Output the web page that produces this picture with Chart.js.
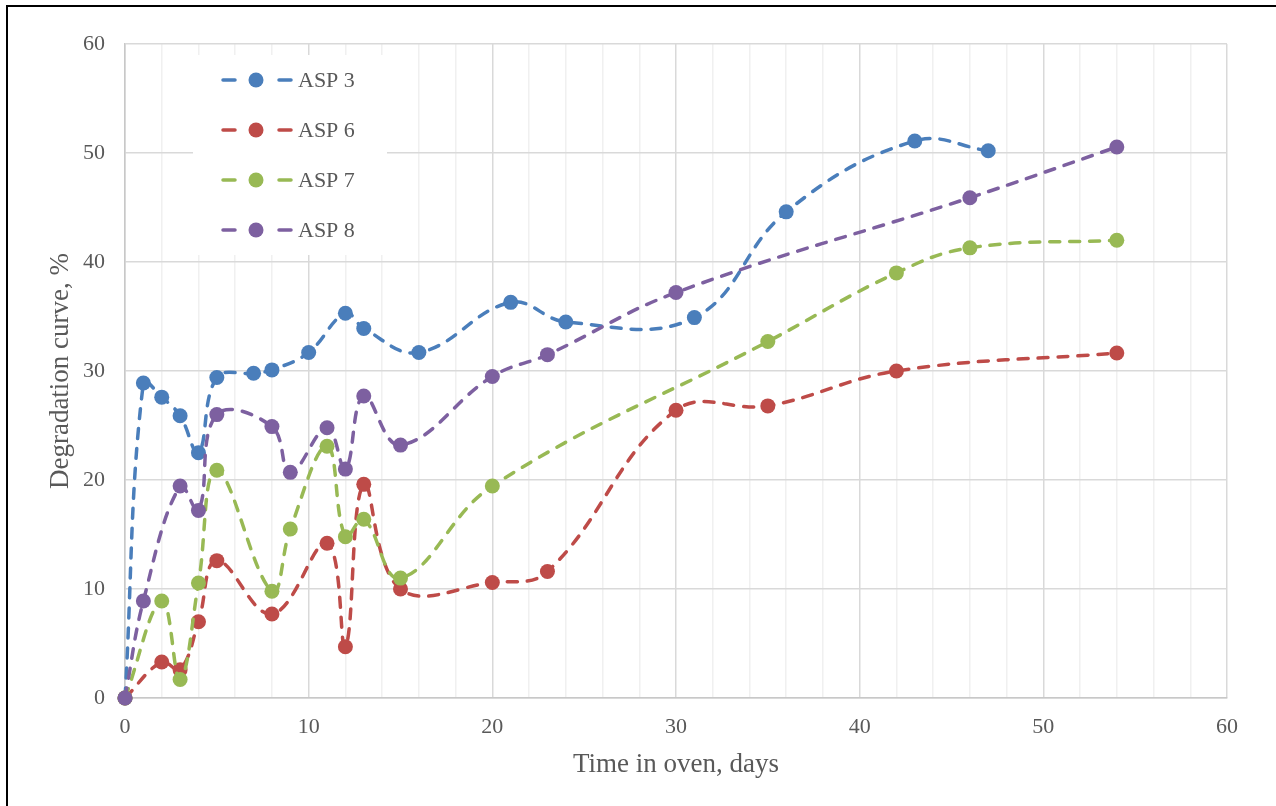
<!DOCTYPE html>
<html>
<head>
<meta charset="utf-8">
<script src="https://cdn.jsdelivr.net/npm/chart.js@4.4.1/dist/chart.umd.min.js"></script>
<style>
  html, body { margin: 0; padding: 0; background: #fff; overflow: hidden; }
  #wrap { position: relative; width: 1276px; height: 806px; }
  #c { position: absolute; left: 0; top: 0; }
  #frame { position: absolute; left: 6px; top: 5px; width: 1400px; height: 900px;
           border-left: 2px solid #000; border-top: 2px solid #000; pointer-events: none; }
</style>
</head>
<body>
<div id="wrap">
  <canvas id="c" width="1276" height="806"></canvas>
  <div id="frame"></div>
</div>
<script>
// ---- data ----
const seriesNames = ['ASP 3', 'ASP 6', 'ASP 7', 'ASP 8'];

const asp3Days   = [0, 1, 2, 3, 4, 5, 7, 8, 10, 12, 13, 16, 21, 24, 31, 36, 43, 47];
const asp3Values = [0, 28.9, 27.6, 25.9, 22.5, 29.4, 29.8, 30.1, 31.7, 35.3, 33.9, 31.7, 36.3, 34.5, 34.9, 44.6, 51.1, 50.2];

const asp6Days   = [0, 2, 3, 4, 5, 8, 11, 12, 13, 15, 20, 23, 30, 35, 42, 54];
const asp6Values = [0, 3.3, 2.6, 7.0, 12.6, 7.7, 14.2, 4.7, 19.6, 10.0, 10.6, 11.6, 26.4, 26.8, 30.0, 31.65];

const asp7Days   = [0, 2, 3, 4, 5, 8, 9, 11, 12, 13, 15, 20, 35, 42, 46, 54];
const asp7Values = [0, 8.9, 1.7, 10.55, 20.9, 9.8, 15.5, 23.1, 14.8, 16.4, 11.0, 19.45, 32.7, 39.0, 41.3, 42.0];

const asp8Days   = [0, 1, 3, 4, 5, 8, 9, 11, 12, 13, 15, 20, 23, 30, 46, 54];
const asp8Values = [0, 8.9, 19.45, 17.2, 26.0, 24.9, 20.7, 24.8, 21.0, 27.7, 23.2, 29.5, 31.5, 37.2, 45.9, 50.55];

const xTickLabels = [0, 10, 20, 30, 40, 50, 60];
const yTickLabels = [0, 10, 20, 30, 40, 50, 60];

const colors = ['#4A7EBB', '#BE4B48', '#98B954', '#7D60A0'];

// ---- build ----
const toPts = (xs, ys) => xs.map((x, i) => ({ x: x, y: ys[i] }));
const allDays = [asp3Days, asp6Days, asp7Days, asp8Days];
const allVals = [asp3Values, asp6Values, asp7Values, asp8Values];

const FONT = "'Liberation Serif', 'Times New Roman', serif";
const TXT = '#595959';

const datasets = seriesNames.map((name, i) => ({
  label: name,
  data: toPts(allDays[i], allVals[i]),
  borderColor: colors[i],
  backgroundColor: colors[i],
  borderWidth: 3.5,
  borderDash: [10, 10],
  borderCapStyle: 'round',
  tension: 0.4,
  pointRadius: 7.5,
  pointBorderWidth: 0,
  pointBackgroundColor: colors[i],
  fill: false,
  clip: false,
  order: seriesNames.length - 1 - i
}));

const legendPlugin = {
  id: 'insideLegend',
  afterDraw(chart) {
    const ctx = chart.ctx;
    const a = chart.chartArea;
    const bx = a.left + 68, by = a.top + 11;
    ctx.save();
    ctx.fillStyle = '#ffffff';
    ctx.fillRect(bx, by, 194, 200);
    ctx.font = "22px " + FONT;
    ctx.textBaseline = 'middle';
    ctx.textAlign = 'left';
    chart.data.datasets.forEach((ds, i) => {
      const cy = a.top + 36 + i * 50;
      ctx.strokeStyle = ds.borderColor;
      ctx.lineWidth = 3.5;
      ctx.lineCap = 'round';
      ctx.beginPath();
      ctx.moveTo(a.left + 98, cy); ctx.lineTo(a.left + 110, cy);
      ctx.moveTo(a.left + 154, cy); ctx.lineTo(a.left + 166, cy);
      ctx.stroke();
      ctx.fillStyle = ds.borderColor;
      ctx.beginPath();
      ctx.arc(a.left + 131, cy, 7.5, 0, Math.PI * 2);
      ctx.fill();
      ctx.fillStyle = TXT;
      ctx.fillText(ds.label, a.left + 173, cy + 1);
    });
    ctx.restore();
  }
};

new Chart(document.getElementById('c'), {
  type: 'line',
  data: { datasets: datasets },
  options: {
    responsive: false,
    animation: false,
    layout: { padding: { left: 41, top: 44, right: 49, bottom: 21 } },
    plugins: { legend: { display: false }, tooltip: { enabled: false } },
    scales: {
      x: {
        type: 'linear',
        min: 0, max: 60,
        afterFit(s) { s.height = 87; },
        ticks: {
          stepSize: 2,
          autoSkip: false,
          maxRotation: 0,
          padding: 16,
          color: TXT,
          font: { family: FONT, size: 22 },
          callback: (v) => xTickLabels.includes(v) ? String(v) : ''
        },
        grid: {
          drawTicks: false,
          lineWidth: 1.5,
          color: (c) => (c.tick && xTickLabels.includes(c.tick.value)) ? '#d9d9d9' : '#f0f0f0'
        },
        border: { color: '#c8c8c8', width: 1.5 },
        title: {
          display: true,
          text: 'Time in oven, days',
          color: TXT,
          font: { family: FONT, size: 27 },
          padding: { top: 4, bottom: 4 }
        }
      },
      y: {
        type: 'linear',
        min: 0, max: 60,
        afterFit(s) { s.width = 84; },
        ticks: {
          stepSize: 10,
          padding: 20,
          color: TXT,
          font: { family: FONT, size: 22 },
          callback: (v) => yTickLabels.includes(v) ? String(v) : ''
        },
        grid: { drawTicks: false, lineWidth: 1.5, color: '#d9d9d9' },
        border: { color: '#c8c8c8', width: 1.5 },
        title: {
          display: true,
          text: 'Degradation curve, %',
          color: TXT,
          font: { family: FONT, size: 27 },
          padding: { top: 4, bottom: 4 }
        }
      }
    }
  },
  plugins: [legendPlugin]
});
</script>
</body>
</html>
